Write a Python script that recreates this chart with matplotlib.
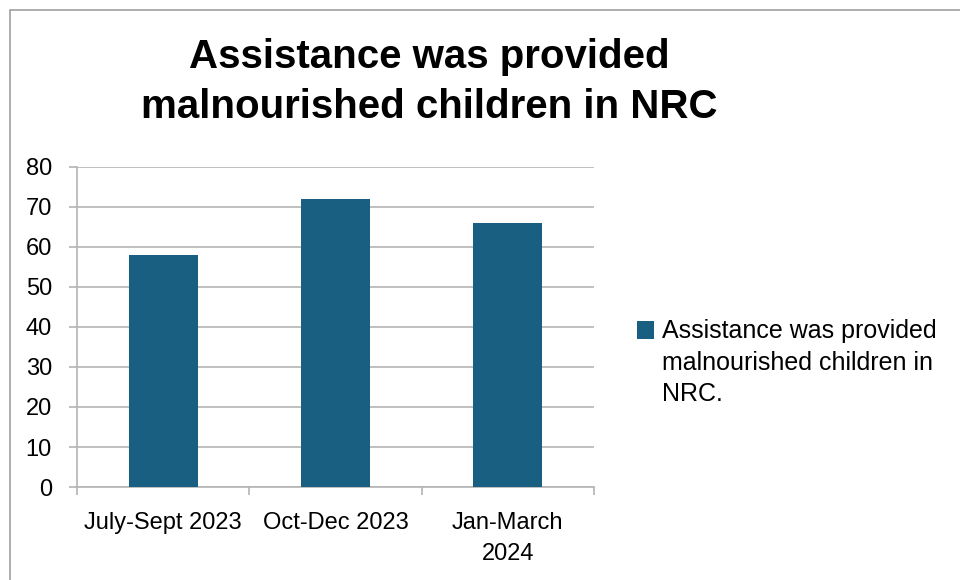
import matplotlib.pyplot as plt
import numpy as np
from matplotlib.patches import Rectangle
from matplotlib.legend_handler import HandlerPatch, update_from_first_child

categories = ["July-Sept 2023", "Oct-Dec 2023", "Jan-March\n2024"]
values = [58, 72, 66]
series_name = "Assistance was provided\nmalnourished children in\nNRC."
title = "Assistance was provided\nmalnourished children in NRC"

bar_color = "#185f82"
grid_color = "#b4b4b4"

plt.rcParams['font.family'] = ['Liberation Sans', 'DejaVu Sans']

fig = plt.figure(figsize=(9.6, 5.8), dpi=100)
ax = fig.add_axes([0.0802, 0.1603, 0.5385, 0.552])

x = np.arange(len(categories))
bars = ax.bar(x, values, width=0.4, color=bar_color, zorder=3, label=series_name)

ax.set_xlim(-0.5, len(categories) - 0.5)
ax.set_ylim(0, 80)
ax.set_yticks(np.arange(0, 81, 10))
ax.yaxis.grid(True, color=grid_color, linewidth=1.2, zorder=0)
ax.tick_params(axis='y', length=6, color=grid_color, width=1.2, labelsize=17, pad=12)

# category boundary ticks
ax.set_xticks(np.arange(-0.5, len(categories), 1.0))
ax.set_xticklabels([])
ax.set_xticks(x, minor=True)
ax.set_xticklabels(categories, minor=True, fontsize=17, linespacing=1.52)
ax.tick_params(axis='x', which='major', length=6, color=grid_color, width=1.2)
ax.tick_params(axis='x', which='minor', length=0, pad=18)

for s in ['top', 'right']:
    ax.spines[s].set_visible(False)
ax.spines['left'].set_color(grid_color)
ax.spines['left'].set_linewidth(1.2)
ax.spines['bottom'].set_color(grid_color)
ax.spines['bottom'].set_linewidth(1.2)

fig.text(0.447, 0.859, title, ha='center', va='center', fontsize=29,
         fontweight='bold', linespacing=1.41)


def top_square(legend, orig_handle, xdescent, ydescent, width, height, fontsize):
    # place the marker beside the first line of the multi-line label
    return Rectangle((-xdescent, -ydescent + 24), width, height)


leg = fig.legend(handles=[bars], labels=[series_name], loc='center left',
                 bbox_to_anchor=(0.640, 0.375), frameon=False, fontsize=18,
                 handlelength=0.7, handleheight=0.7, handletextpad=0.3,
                 handler_map={type(bars): HandlerPatch(patch_func=top_square,
                                                       update_func=update_from_first_child)})
for t in leg.get_texts():
    t.set_linespacing(1.39)

fig.patches.append(Rectangle((0.0104, -0.1), 1.2, 1.0828, transform=fig.transFigure,
                             fill=False, edgecolor='#a0a0a0', linewidth=1.2))

fig.savefig("out.png", dpi=100)
